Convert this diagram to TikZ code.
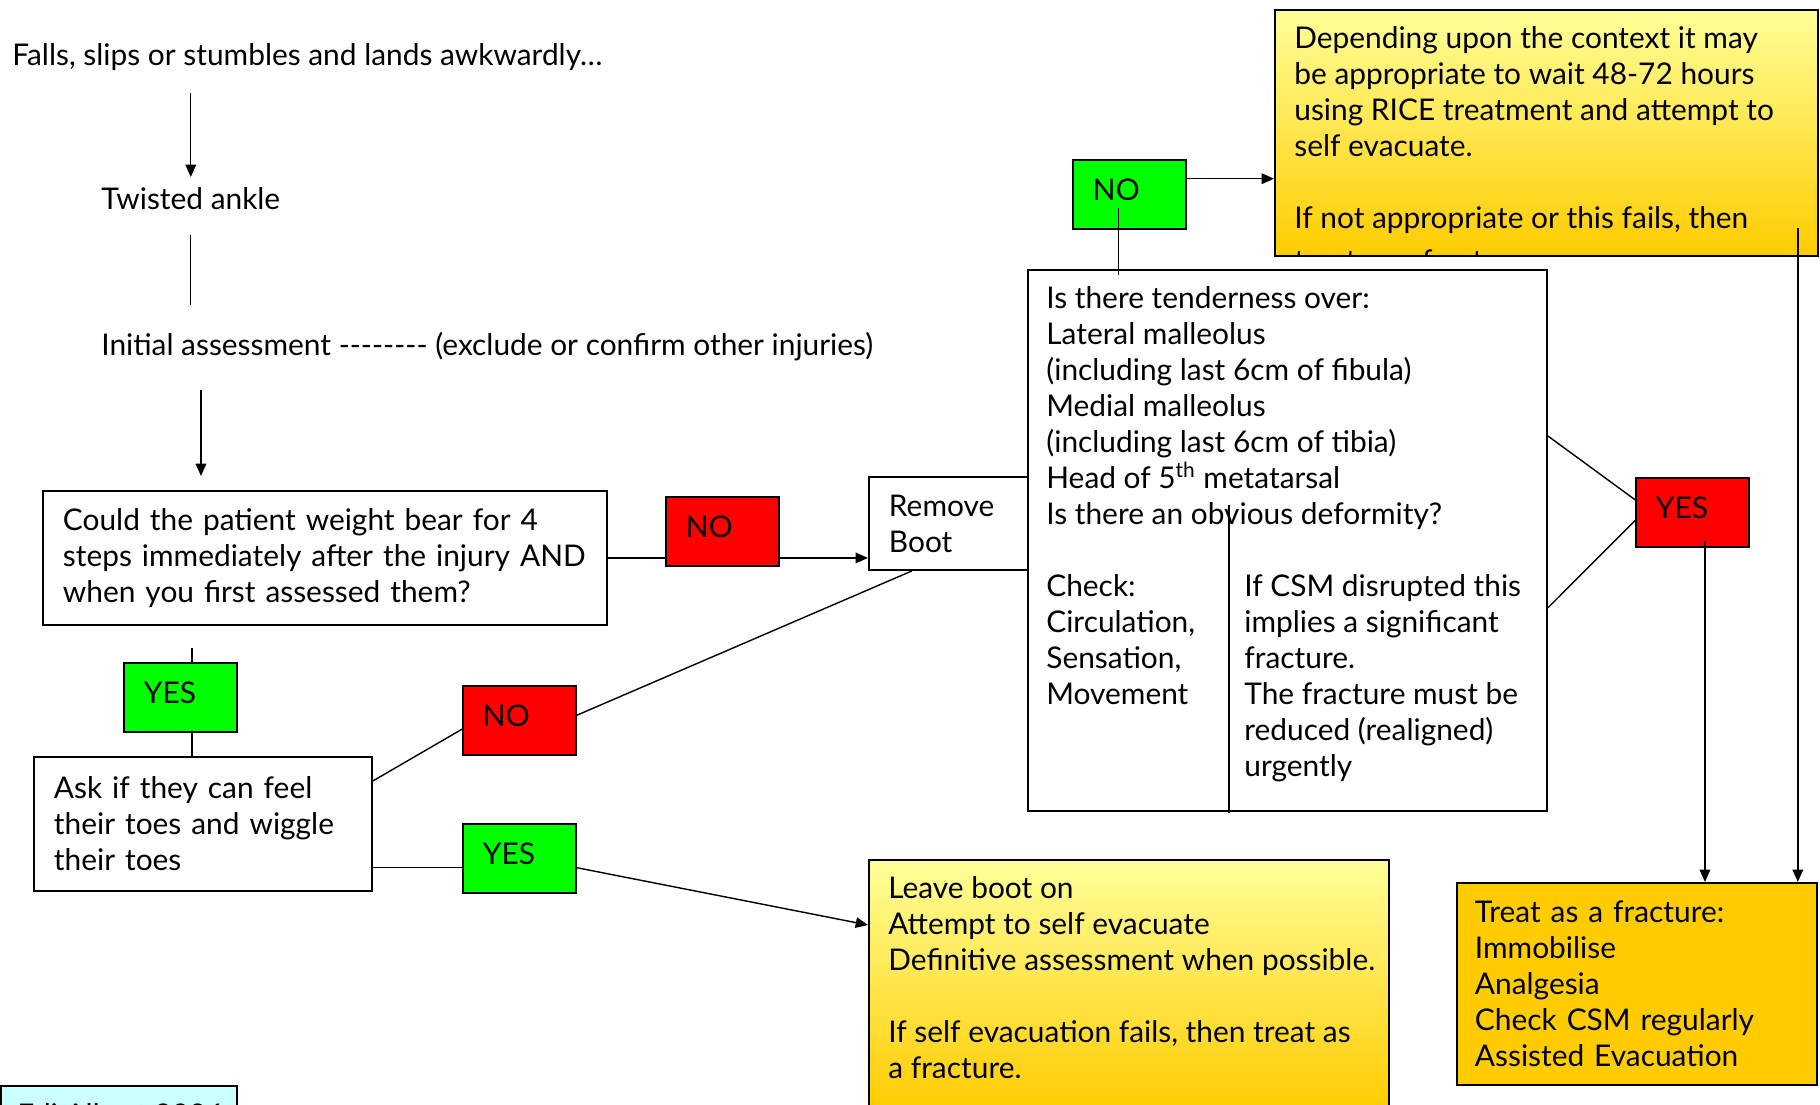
\documentclass[tikz,border=0pt]{standalone}
\usepackage{fontspec}
\setmainfont{Lato}
\usetikzlibrary{arrows.meta}

\definecolor{nored}{HTML}{FF0000}
\definecolor{yesgreen}{HTML}{00FF00}
\definecolor{gold}{HTML}{FFCC00}
\definecolor{paleyellow}{HTML}{FFFF99}
\definecolor{paleblue}{HTML}{CCFFFF}

\newcommand{\flowsize}{\fontsize{17}{20.5}\selectfont}

\tikzset{
    flowbox/.style={draw, line width=1.1pt, anchor=north west, inner sep=0pt},
    question/.style={flowbox, fill=white, align=left, inner xsep=0.4cm},
    answer/.style={flowbox, align=left, inner xsep=0.4cm, text width=1.46cm,
        minimum width=2.26cm, minimum height=1.39cm, text depth=0.6em},
    nobox/.style={answer, fill=nored},
    yesbox/.style={answer, fill=yesgreen},
    words/.style={anchor=north west, inner sep=0pt, align=left},
    link/.style={line width=0.8pt},
    arr/.style={link, -{Triangle[length=7pt,width=6pt]}},
}

\begin{document}
\begin{tikzpicture}[x=0.02cm, y=-0.02cm, font=\flowsize]

        \useasboundingbox (0,0) rectangle (1820,1105);
        \clip (0,0) rectangle (1820,1105);

        % The three lines of text at the top left
        \node[words] (falls) at (12,43) {Falls, slips or stumbles and lands awkwardly…};
        \node[words] (twisted) at (101,187) {Twisted ankle};
        \node[words] (initial) at (101,332)
            {Initial assessment -{}-{}-{}-{}-{}-{}-{}- (exclude or confirm other injuries)};

        % the weight bearing question
        \node[question, minimum width=11.28cm, minimum height=2.68cm, text width=10.48cm]
            (q) at (42,490) {Could the patient weight bear for 4\\
            steps immediately after the injury AND\\ when you first assessed them?};

        % the toes question
        \node[question, minimum width=6.76cm, minimum height=2.68cm, text width=5.96cm]
            (ask) at (33,756) {Ask if they can feel\\ their toes and wiggle\\ their toes};

        % Remove Boot
        \node[question, minimum width=3.18cm, minimum height=1.86cm, text width=2.38cm]
            (boot) at (868,476) {Remove\\ Boot};

        % the red and green answers
        \node[nobox] (no1) at (665,496) {NO};
        \node[yesbox] (yes1) at (123,662) {YES};
        \node[nobox] (no2) at (462,685) {NO};
        \node[yesbox] (yes2) at (462,823) {YES};
        \node[yesbox] (nog) at (1072,159) {NO};
        \node[nobox] (yes3) at (1635,477) {YES};

        % the tenderness box with its two columns
        \node[flowbox, fill=white, minimum width=10.38cm, minimum height=10.82cm]
            (check) at (1027,269) {};
        \node[words] (checktxt) at (1046,286) {Is there tenderness over:\\ Lateral malleolus\\
            (including last 6cm of fibula)\\ Medial malleolus\\
            (including last 6cm of tibia)\\ Head of 5\textsuperscript{th} metatarsal\\
            Is there an obvious deformity?};
        \node[words] (csmtxt) at (1046,574) {Check:\\ Circulation,\\ Sensation,\\ Movement};
        \node[words] (csmfail) at (1244,574) {If CSM disrupted this\\ implies a significant\\
            fracture.\\ The fracture must be\\ reduced (realigned)\\ urgently};
        % the line between the columns
        \draw[link] (1229,505) -- (1229,813);

        % the RICE box (its last line is cut by the box)
        \node[flowbox, top color=paleyellow, bottom color=gold,
            minimum width=10.86cm, minimum height=4.92cm] (rice) at (1274,9) {};
        \begin{scope}
            \clip (rice.south west) rectangle (rice.north east);
            \node[words] (ricetxt) at (1294,26) {Depending upon the context it may\\
                be appropriate to wait 48-72 hours\\ using RICE treatment and attempt to\\
                self evacuate.\\[20.5pt] If not appropriate or this fails, then\\[4pt]
                treat as a fracture.};
        \end{scope}

        % the leave boot on box
        \node[flowbox, top color=paleyellow, bottom color=gold,
            minimum width=10.4cm, minimum height=5cm] (leave) at (868,859) {};
        \node[words] (leavetxt) at (888,876) {Leave boot on\\ Attempt to self evacuate\\
            Definitive assessment when possible.\\[20.5pt]
            If self evacuation fails, then treat as\\ a fracture.};

        % the fracture box
        \node[question, fill=gold, minimum width=7.2cm, minimum height=4.04cm,
            inner xsep=0.36cm, text width=6.48cm] (treat) at (1456,882)
            {Treat as a fracture:\\ Immobilise\\ Analgesia\\ Check CSM regularly\\
            Assisted Evacuation};

        % the name box at the bottom left
        \node[flowbox, fill=paleblue, minimum width=4.72cm, minimum height=1.2cm]
            (edi) at (0,1085) {};
        \node[words] (editxt) at (17,1103) {Edi Albert 2006};

        % Lines down the left side
        \draw[arr, shorten <=0.44cm, shorten >=0.2cm] (twisted.north |- falls.south) -- (twisted.north);
        \draw[link, shorten <=0.5cm, shorten >=0.54cm] (twisted.south) -- (twisted.south |- initial.north);
        \draw[arr, shorten <=0.58cm, shorten >=0.28cm]
            ([xshift=3.18cm]q.north west |- initial.south) -- ([xshift=3.18cm]q.north west);

        % From the question to Remove Boot
        \draw[link] (q.east) -- (q.east -| no1.west);
        \draw[arr] (q.east -| no1.east) -- (q.east -| boot.west);

        % From the question down to the toes
        \draw[link] ([xshift=0.23cm,yshift=0.28cm]yes1.north) -- ([xshift=0.23cm]yes1.north);
        \draw[link] ([xshift=0.23cm]yes1.south) -- ([xshift=0.23cm]yes1.south |- ask.north);

        % From the toes back up to Remove Boot
        \draw[link] ([yshift=0.86cm]ask.east) -- ([yshift=-0.17cm]no2.west);
        \draw[link] ([yshift=0.11cm]no2.east) -- ([xshift=-0.73cm]boot.south);

        % From the toes to leave boot on
        \coordinate (toesyes) at ([yshift=-0.18cm]yes2.west);
        \draw[link] (toesyes -| ask.east) -- (toesyes);
        \draw[arr] ([yshift=-0.18cm]yes2.east) -- ([yshift=-1.32cm]leave.north west);

        % From tenderness up to NO and the RICE box
        \coordinate (nogdrop) at ([xshift=-0.22cm,yshift=-0.26cm]nog.center);
        \draw[link] (nogdrop) -- ([yshift=-0.12cm]nogdrop |- check.north);
        \draw[arr] ([yshift=0.32cm]nog.east) -- ([yshift=0.32cm]nog.east -| rice.west);

        % From tenderness to YES
        \draw[link] ([yshift=2.09cm]check.east) -- ([yshift=0.26cm]yes3.west);
        \draw[link] ([yshift=-1.35cm]check.east) -- ([yshift=-0.16cm]yes3.west);

        % the two arrows down to the fracture box
        \coordinate (yesdrop) at ([xshift=0.25cm,yshift=-0.56cm]yes3.center);
        \draw[arr] (yesdrop) -- (yesdrop |- treat.north);
        \coordinate (ricedrop) at ([xshift=-0.42cm,yshift=0.58cm]rice.south east);
        \draw[arr] (ricedrop) -- (ricedrop |- treat.north);

\end{tikzpicture}
\end{document}
